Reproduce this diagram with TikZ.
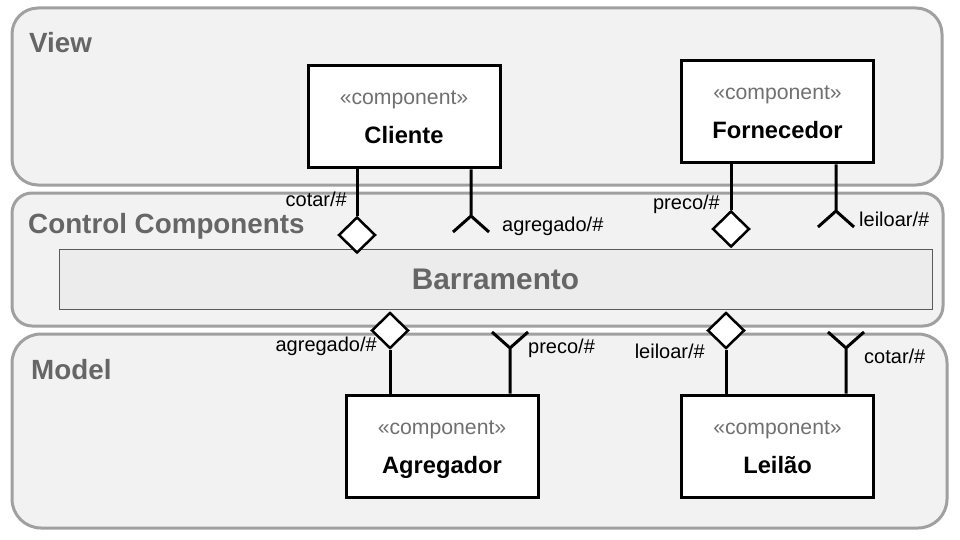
\documentclass[tikz,border=0pt]{standalone}
\usepackage{fontspec}
\setmainfont{Liberation Sans}
\usetikzlibrary{shapes.geometric}
\definecolor{tierfill}{HTML}{F2F2F2}
\definecolor{tierline}{HTML}{A0A0A0}
\definecolor{titlegray}{HTML}{666666}
\definecolor{stereogray}{HTML}{707070}
\definecolor{busfill}{HTML}{ECECEC}
\definecolor{busline}{HTML}{5A5A5A}

\begin{document}
\begin{tikzpicture}[x=1pt, y=-1pt,
	tier/.style={draw=tierline, fill=tierfill, line width=3pt, rounded corners=#1, inner sep=0pt},
	title/.style={anchor=base west, inner sep=0pt, text=titlegray, font=\fontsize{27.8}{30}\selectfont\bfseries},
	bus/.style={draw=busline, fill=busfill, line width=1pt, text=titlegray, font=\fontsize{29.8}{32}\selectfont\bfseries, minimum width=873pt, minimum height=60pt},
	comp/.style={draw, fill=white, line width=3pt, minimum width=192pt, minimum height=102pt},
	stereo/.style={anchor=base, inner sep=0pt, text=stereogray, font=\fontsize{21.2}{24}\selectfont},
	cname/.style={anchor=base, inner sep=0pt, font=\fontsize{23.7}{26}\selectfont\bfseries},
	pub/.style={diamond, draw, fill=white, line width=2.5pt, inner sep=0pt, minimum width=37pt, minimum height=36pt},
	wire/.style={line width=3pt},
	lbl/.style={inner sep=0pt, font=\fontsize{20}{22}\selectfont}]
	\useasboundingbox (0,0) rectangle (960,540);
	
	\node[tier=26pt, minimum width=930pt, minimum height=177pt] (view) at (477,96.5) {};
	\node[tier=20pt, minimum width=931pt, minimum height=133pt] (ctrl) at (477.5,259.5) {};
	\node[tier=29pt, minimum width=935pt, minimum height=194pt] (model) at (479.5,431) {};
	\node[title] (viewT) at (29,53) {View};
	\node[title] (ctrlT) at (28,233) {Control Components};
	\node[title] (modelT) at (31,379) {Model};
	\node[bus] (bus) at (495.5,279) {Barramento};
	
	\foreach \n/\x/\y/\t in {cli/404/117/Cliente, forn/777.5/112/Fornecedor, agr/442/446/Agregador, lei/777.5/446/Leilão} {
		\node[comp] (\n) at (\x,\y) {};
		\node[stereo] (\n-s) at (\x,\y-12) {«component»};
		\node[cname] (\n-t) at (\x,\y+27) {\t};
	}
	
	\node[pub] (cliP) at (357,235) {};
	\node[pub] (fornP) at (731,229) {};
	\node[pub] (agrP) at (390,330.5) {};
	\node[pub] (leiP) at (726,330.5) {};
	\coordinate (cliF) at (471,216);
	\coordinate (fornF) at (836,211);
	\coordinate (agrF) at (510,348);
	\coordinate (leiF) at (846,348);
	
	\draw[wire] (cli.south -| cliP.north) -- (cliP.north);
	\draw[wire] (forn.south -| fornP.north) -- (fornP.north);
	\draw[wire] (agrP.south) -- (agrP.south |- agr.north);
	\draw[wire] (leiP.south) -- (leiP.south |- lei.north);
	\draw[wire] (cli.south -| cliF) -- (cliF) -- +(-18,16) (cliF) -- +(18,16);
	\draw[wire] (forn.south -| fornF) -- (fornF) -- +(-18,16) (fornF) -- +(18,16);
	\draw[wire] (agr.north -| agrF) -- (agrF) -- +(-18,-16) (agrF) -- +(18,-16);
	\draw[wire] (lei.north -| leiF) -- (leiF) -- +(-18,-16) (leiF) -- +(18,-16);
	
	\node[lbl, anchor=base east] (cliPl) at (347,206) {cotar/\#};
	\node[lbl, anchor=base west] (cliFl) at (502,231) {agregado/\#};
	\node[lbl, anchor=base east] (fornPl) at (720,209) {preco/\#};
	\node[lbl, anchor=base west] (fornFl) at (859,226) {leiloar/\#};
	\node[lbl, anchor=base east] (agrPl) at (377,351) {agregado/\#};
	\node[lbl, anchor=base west] (agrFl) at (528,353) {preco/\#};
	\node[lbl, anchor=base east] (leiPl) at (705,358) {leiloar/\#};
	\node[lbl, anchor=base west] (leiFl) at (864,363) {cotar/\#};
\end{tikzpicture}
\end{document}
